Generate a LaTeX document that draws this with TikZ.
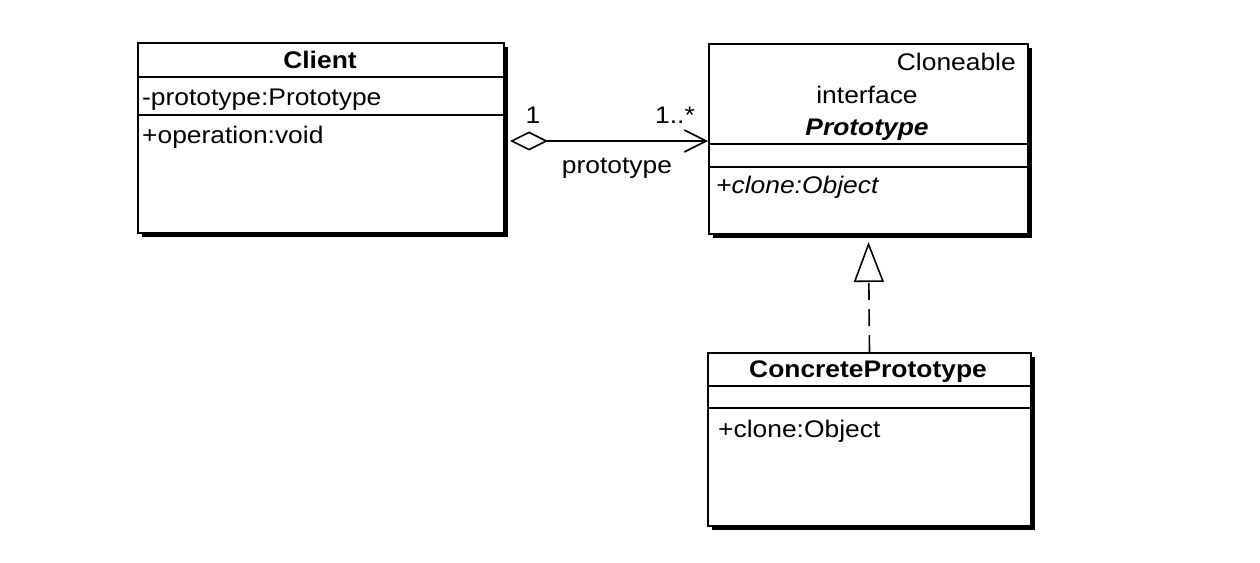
\documentclass[tikz,border=0pt]{standalone}
\usepackage{fontspec}
\setmainfont{Liberation Sans}[FakeStretch=1.1]
\usetikzlibrary{arrows.meta,shadows,calc}
\begin{document}
\begin{tikzpicture}[x=1pt,y=-1pt,
  every node/.style={font=\fontsize{24}{28}\selectfont, inner sep=0pt},
  classbox/.style={draw, line width=2pt, fill=white,
    drop shadow={shadow xshift=4pt, shadow yshift=-4pt, fill=black, opacity=1}},
  sepline/.style={line width=1.6pt},
  conn/.style={line width=1.6pt},
  namefont/.style={font=\fontsize{24}{28}\selectfont\bfseries},
]
\useasboundingbox[fill=white] (0,0) rectangle (1260,562);

% class boxes
\node[classbox, minimum width=366pt, minimum height=190pt, anchor=north west] (client) at (137,42) {};
\node[classbox, minimum width=319pt, minimum height=190pt, anchor=north west] (proto) at (708,43) {};
\node[classbox, minimum width=323pt, minimum height=173pt, anchor=north west] (concrete) at (707,352) {};

% compartment separators
\draw[sepline] ($(client.north west)+(0,35)$) -- ($(client.north east)+(0,35)$);
\draw[sepline] ($(client.north west)+(0,73)$) -- ($(client.north east)+(0,73)$);
\draw[sepline] ($(proto.north west)+(0,101)$) -- ($(proto.north east)+(0,101)$);
\draw[sepline] ($(proto.north west)+(0,124)$) -- ($(proto.north east)+(0,124)$);
\draw[sepline] ($(concrete.north west)+(0,34)$) -- ($(concrete.north east)+(0,34)$);
\draw[sepline] ($(concrete.north west)+(0,56)$) -- ($(concrete.north east)+(0,56)$);

% Client
\node[namefont, anchor=base] (clientname) at (320,68) {Client};
\node[anchor=base west] (clientattr) at (142,105) {-prototype:Prototype};
\node[anchor=base west] (clientop) at (142,143) {+operation:void};

% Prototype interface
\node[anchor=base east] (protostereo) at (1016,70) {Cloneable};
\node[anchor=base] (protokind) at (867,103) {interface};
\node[font=\fontsize{24}{28}\selectfont\bfseries\itshape, anchor=base] (protoname) at (867,135) {Prototype};
\node[anchor=base west, font=\fontsize{24}{28}\selectfont\itshape] (protoop) at (716,193) {+clone:Object};

% ConcretePrototype
\node[namefont, anchor=base] (concname) at (868,377) {ConcretePrototype};
\node[anchor=base west] (concop) at (718,437) {+clone:Object};

% aggregation Client -> Prototype
\coordinate (aggy) at (0,141);
\draw[conn, {Diamond[open,length=38pt,width=19pt]}-{Straight Barb[length=22pt,width=22pt]}]
  ([xshift=5pt]client.east |- aggy) -- (proto.west |- aggy);
\node[anchor=base] (multa) at (533,123) {1};
\node[anchor=base west] (multb) at (655,123) {1..*};
\node[anchor=base] (rolename) at (617,173) {prototype};

% realization ConcretePrototype -> Prototype
\draw[conn, dash pattern=on 17pt off 9pt, -{Triangle[open,length=40pt,width=30pt]}]
  (concrete.north) -- ([yshift=-7pt]proto.south);
\end{tikzpicture}
\end{document}
